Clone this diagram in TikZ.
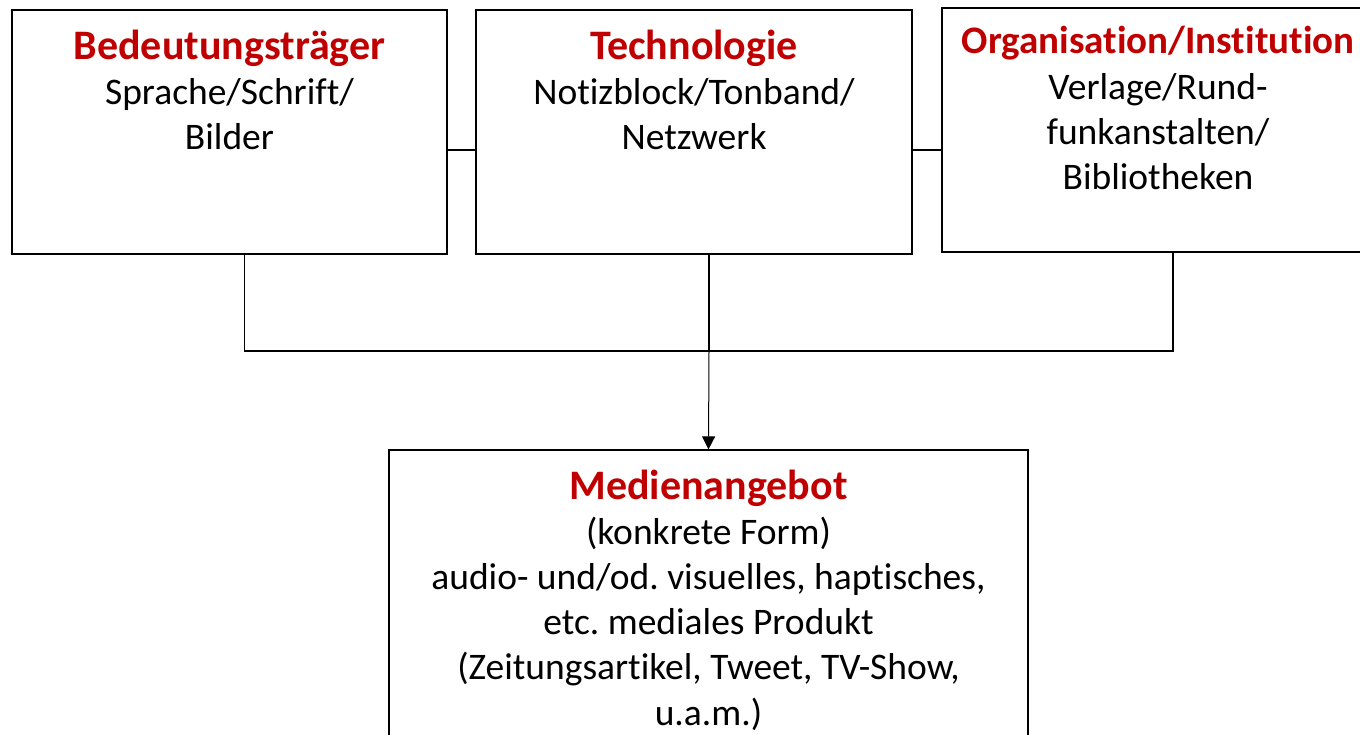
\documentclass[tikz,border=0pt]{standalone}
\usepackage{fontspec}
\setmainfont{Carlito}[Ligatures=NoCommon]
\usetikzlibrary{arrows.meta,positioning}
\definecolor{titlered}{RGB}{192,0,0}
\newcommand\boxtitle[2][42]{{\fontsize{#1}{48}\selectfont\bfseries\color{titlered}#2}}
\frenchspacing
\begin{document}
\begin{tikzpicture}[x=1pt,y=1pt,
  box/.style={draw=black, line width=1.2pt, inner sep=0pt},
  boxtext/.style={anchor=north, align=center, inner sep=0pt, font=\fontsize{37.5}{45.2}\selectfont}]
\useasboundingbox (0,0) rectangle (1360,735);
\clip (0,0) rectangle (1360,735);
% the three source boxes
\node[box, minimum width=435, minimum height=244] (bed) at (229.5,603) {};
\node[box, minimum width=436, minimum height=244] (tech) at (694,603) {};
\node[box, minimum width=432, minimum height=244] (org) at (1158,605) {};
\node[boxtext, yshift=-20] (bedtext) at (bed.north) {\boxtitle{Bedeutungsträger}\\Sprache/Schrift/\\Bilder};
\node[boxtext, yshift=-20] (techtext) at (tech.north) {\boxtitle{Technologie}\\Notizblock/Tonband/\\Netzwerk};
\node[boxtext, yshift=-19] (orgtext) at (org.north) {\boxtitle[39]{Organisation/Institution}\\Verlage/Rund-\\funkanstalten/\\Bibliotheken};
% the result box
\node[box, minimum width=639, minimum height=300] (medien) at (708.5,135) {};
\node[boxtext, yshift=-20] (medientext) at (medien.north) {\boxtitle{Medienangebot}\\(konkrete Form)\\audio- und/od. visuelles, haptisches,\\etc. mediales Produkt\\(Zeitungsartikel, Tweet, TV-Show,\\u.a.m.)};
% connectors
\coordinate (link) at (0,585);
\coordinate (join) at ([xshift=15]tech.south |- 0,384);
\draw[line width=1.2pt] (bed.east |- link) -- (tech.west |- link);
\draw[line width=1.2pt] (tech.east |- link) -- (org.west |- link);
\draw[line width=1.2pt] ([xshift=15]bed.south) |- (join) -| ([xshift=15]org.south);
\draw[line width=1.2pt] ([xshift=15]tech.south) -- (join);
\draw[line width=1pt, -{Triangle[length=13pt,width=13pt]}] (join) -- (medien.north);
\end{tikzpicture}
\end{document}
